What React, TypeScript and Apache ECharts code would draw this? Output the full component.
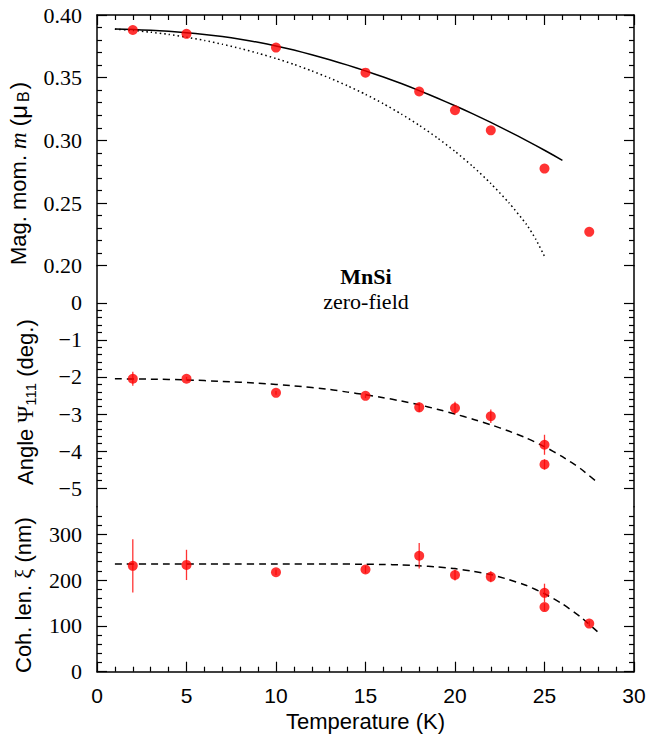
import React, { useEffect, useRef } from 'react';
import * as echarts from 'echarts';

// ---------- data ----------
// Magnetic moment panel
const magT = [2, 5, 10, 15, 18, 20, 22, 25, 27.5];
const magMoment = [0.388, 0.385, 0.374, 0.354, 0.339, 0.324, 0.308, 0.2775, 0.227];
const solidFitT = [1, 2, 3, 4, 5, 6, 7, 8, 9, 10, 11, 12, 13, 14, 15, 16, 17, 18, 19, 20, 21, 22, 23, 24, 25, 26];
const solidFit = [
  0.3888, 0.3884, 0.3878, 0.387, 0.3859, 0.3845, 0.3828, 0.3807, 0.3782, 0.3753, 0.372, 0.3683, 0.3643,
  0.36, 0.3554, 0.3505, 0.3453, 0.3397, 0.3338, 0.3276, 0.3211, 0.3143, 0.3072, 0.2998, 0.2921, 0.2841,
];
const dottedFitT = [1, 2, 3, 4, 5, 6, 7, 8, 9, 10, 11, 12, 13, 14, 15, 16, 17, 18, 19, 20, 21, 22, 23, 24, 24.5, 25];
const dottedFit = [
  0.3887, 0.3877, 0.3863, 0.3845, 0.3823, 0.3797, 0.3767, 0.3733, 0.3695, 0.3653, 0.3606, 0.3554, 0.3497,
  0.3435, 0.3367, 0.3292, 0.321, 0.312, 0.3021, 0.2912, 0.2791, 0.2656, 0.2504, 0.2328, 0.2214, 0.2075,
];

// Angle panel
const angleT = [2, 5, 10, 15, 18, 20, 22, 25, 25];
const angleVal = [-2.05, -2.05, -2.43, -2.51, -2.82, -2.84, -3.06, -3.83, -4.36];
const angleErr = [0.19, 0.05, 0.05, 0.06, 0.13, 0.17, 0.18, 0.27, 0.14];
const angleFitT = [1, 3, 5, 7, 9, 11, 13, 14, 15, 16, 17, 18, 19, 20, 21, 22, 23, 24, 25, 26, 27, 28];
const angleFit = [
  -2.05, -2.06, -2.08, -2.12, -2.17, -2.24, -2.34, -2.41, -2.48, -2.56, -2.65, -2.75, -2.87, -3.0, -3.14,
  -3.29, -3.46, -3.65, -3.88, -4.15, -4.47, -4.86,
];

// Coherence length panel
const cohT = [2, 5, 10, 15, 18, 20, 22, 25, 25, 27.5];
const cohVal = [231, 233, 217, 223, 253, 211, 207, 172, 141, 105];
const cohErr = [58, 33, 6, 8, 28, 12, 12, 20, 8, 6];
const cohFitT = [1, 4, 7, 10, 13, 15, 16, 17, 18, 19, 20, 21, 22, 23, 24, 25, 26, 27, 28];
const cohFit = [235, 235, 235, 235, 235, 234.5, 234, 233, 231, 228.5, 225, 219, 212, 201, 188, 170, 148, 120, 86];

// tick values
const magMajor = [0.2, 0.25, 0.3, 0.35, 0.4];
const angleMajor = [0, -1, -2, -3, -4, -5];
const cohMajor = [0, 100, 200, 300];
const tempTicks = [0, 5, 10, 15, 20, 25, 30];

// ---------- helpers ----------
const SANS = "'Liberation Sans', Arial, sans-serif";
const SERIF = "'Liberation Serif', 'Times New Roman', serif";
const RED = '#ff0000';

function range(start: number, stop: number, step: number, skipEvery: number) {
  const out: number[] = [];
  const n = Math.round((stop - start) / step);
  for (let i = 0; i <= n; i++) {
    if (i % skipEvery === 0) continue;
    out.push(+(start + i * step).toFixed(4));
  }
  return out;
}
const magMinor = range(0.2, 0.4, 0.01, 5);
const angleMinor = range(-5, 0, 0.2, 5);
const cohMinor = range(0, 340, 20, 5);

const zip = (a: number[], b: number[]) => a.map((v, i) => [v, b[i]]);
const zip3 = (a: number[], b: number[], c: number[]) => a.map((v, i) => [v, b[i], c[i]]);

const lineStyleFrame = { color: '#000', width: 1.5 };

function yAxesFor(
  gridIndex: number,
  min: number,
  max: number,
  majors: number[],
  minors: number[],
  fmt: (v: number) => string
) {
  const base = { type: 'value', gridIndex, min, max, splitLine: { show: false } };
  const mk = (pos: string, major: boolean) => ({
    ...base,
    position: pos,
    axisLine: { show: major, onZero: false, lineStyle: lineStyleFrame },
    axisTick: {
      show: true,
      inside: true,
      length: major ? 10 : 5,
      customValues: major ? majors : minors,
      lineStyle: { color: '#000', width: 1.2 },
    },
    axisLabel:
      major && pos === 'left'
        ? {
            show: true,
            customValues: majors,
            formatter: (v: number) => fmt(v),
            fontFamily: SERIF,
            fontSize: 22,
            color: '#000',
            margin: 15,
          }
        : { show: false },
  });
  return [mk('left', true), mk('left', false), mk('right', true), mk('right', false)];
}

function errorBars(xAxisIndex: number, yAxisIndex: number, data: number[][]) {
  return {
    type: 'custom',
    xAxisIndex,
    yAxisIndex,
    z: 3,
    encode: { x: 0, y: 1 },
    data,
    renderItem: (params: any, api: any) => {
      const x = api.value(0);
      const y = api.value(1);
      const e = api.value(2);
      const p1 = api.coord([x, y - e]);
      const p2 = api.coord([x, y + e]);
      return {
        type: 'line',
        shape: { x1: p1[0], y1: p1[1], x2: p2[0], y2: p2[1] },
        style: { stroke: RED, lineWidth: 1.3, opacity: 0.8 },
      };
    },
  };
}

const fitLine = (xAxisIndex: number, yAxisIndex: number, data: number[][], type: any) => ({
  type: 'line',
  xAxisIndex,
  yAxisIndex,
  z: 2,
  data,
  showSymbol: false,
  smooth: 0.2,
  lineStyle: { color: '#000', width: 1.5, type },
});

const dots = (xAxisIndex: number, yAxisIndex: number, data: number[][]) => ({
  type: 'scatter',
  xAxisIndex,
  yAxisIndex,
  z: 4,
  data,
  symbolSize: 10,
  itemStyle: { color: RED },
});

const minus = (v: number) => String(v).replace('-', '\u2212');

const titleRich = {
  a: { fontFamily: SANS, fontSize: 22, lineHeight: 26, fill: '#000' },
  m: { fontFamily: SANS, fontSize: 24, lineHeight: 26, fill: '#000' },
  i: { fontFamily: SERIF, fontStyle: 'italic', fontSize: 23, lineHeight: 26, fill: '#000' },
  p: { fontFamily: SERIF, fontSize: 23, lineHeight: 26, fill: '#000' },
  s: { fontFamily: SANS, fontSize: 15, lineHeight: 26, verticalAlign: 'bottom', fill: '#000' },
  sb: { fontFamily: SANS, fontSize: 16, lineHeight: 26, verticalAlign: 'bottom', fill: '#000', padding: [0, 2, 0, 3] },
};

const option: any = {
  animation: false,
  backgroundColor: '#fff',
  grid: [
    { left: 97, right: 18, top: 15, height: 250.7 },
    { left: 97, right: 18, top: 265.7, height: 241 },
    { left: 97, right: 18, top: 506.7, height: 165 },
  ],
  xAxis: [
    {
      type: 'value',
      gridIndex: 0,
      min: 0,
      max: 30,
      interval: 5,
      position: 'top',
      axisLine: { show: true, onZero: false, lineStyle: lineStyleFrame },
      axisTick: { show: true, inside: true, length: 10, lineStyle: { color: '#000', width: 1.2 } },
      minorTick: { show: true, splitNumber: 5, length: 5, lineStyle: { color: '#000', width: 1.2 } },
      axisLabel: { show: false },
      splitLine: { show: false },
    },
    { type: 'value', gridIndex: 1, min: 0, max: 30, show: false, splitLine: { show: false } },
    {
      type: 'value',
      gridIndex: 2,
      min: 0,
      max: 30,
      interval: 5,
      position: 'bottom',
      axisLine: { show: true, onZero: false, lineStyle: lineStyleFrame },
      axisTick: { show: true, inside: true, length: 10, customValues: tempTicks, lineStyle: { color: '#000', width: 1.2 } },
      minorTick: { show: true, splitNumber: 5, length: 5, lineStyle: { color: '#000', width: 1.2 } },
      axisLabel: { show: true, fontFamily: SANS, fontSize: 21, color: '#000', margin: 13 },
      splitLine: { show: false },
      name: 'Temperature (K)',
      nameLocation: 'middle',
      nameGap: 39,
      nameTextStyle: { fontFamily: SANS, fontSize: 22, color: '#000' },
    },
  ],
  yAxis: [
    ...yAxesFor(0, 0.2, 0.4, magMajor, magMinor, (v) => v.toFixed(2)),
    ...yAxesFor(1, -5.5, 1, angleMajor, angleMinor, minus),
    ...yAxesFor(2, 0, 360, cohMajor, cohMinor, (v) => String(v)),
  ],
  series: [
    fitLine(0, 0, zip(solidFitT, solidFit), 'solid'),
    fitLine(0, 0, zip(dottedFitT, dottedFit), [1.5, 3]),
    dots(0, 0, zip(magT, magMoment)),
    fitLine(1, 4, zip(angleFitT, angleFit), [7, 5]),
    errorBars(1, 4, zip3(angleT, angleVal, angleErr)),
    dots(1, 4, zip(angleT, angleVal)),
    fitLine(2, 8, zip(cohFitT, cohFit), [7, 5]),
    errorBars(2, 8, zip3(cohT, cohVal, cohErr)),
    dots(2, 8, zip(cohT, cohVal)),
  ],
  graphic: [
    {
      type: 'text',
      x: 366,
      y: 276,
      style: { text: 'MnSi', fontFamily: SERIF, fontWeight: 'bold', fontSize: 22, fill: '#000', align: 'center', verticalAlign: 'middle' },
    },
    {
      type: 'text',
      x: 366,
      y: 301,
      style: { text: 'zero-field', fontFamily: SERIF, fontSize: 22, fill: '#000', align: 'center', verticalAlign: 'middle' },
    },
    {
      type: 'text',
      x: 18,
      y: 265,
      rotation: Math.PI / 2,
      style: {
        text: '{a|Mag. mom. }{i|m}{a| (}{m|μ}{sb|B}{a|)}',
        align: 'left',
        verticalAlign: 'middle',
        fill: '#000',
        rich: titleRich,
      },
    },
    {
      type: 'text',
      x: 25,
      y: 485,
      rotation: Math.PI / 2,
      style: {
        text: '{a|Angle }{p|Ψ}{s|111}{a| (deg.)}',
        align: 'left',
        verticalAlign: 'middle',
        fill: '#000',
        rich: titleRich,
      },
    },
    {
      type: 'text',
      x: 23,
      y: 673,
      rotation: Math.PI / 2,
      style: {
        text: '{a|Coh. len. }{p|ξ}{a| (nm)}',
        align: 'left',
        verticalAlign: 'middle',
        fill: '#000',
        rich: titleRich,
      },
    },
  ],
};

export default function App() {
  const ref = useRef<HTMLDivElement>(null);
  useEffect(() => {
    const chart = echarts.init(ref.current!, null, { renderer: 'svg' });
    chart.setOption(option);
    return () => chart.dispose();
  }, []);
  return (
    <div
      ref={ref}
      style={{ position: 'absolute', left: 0, top: 0, width: 652, height: 736, background: '#fff' }}
    />
  );
}
